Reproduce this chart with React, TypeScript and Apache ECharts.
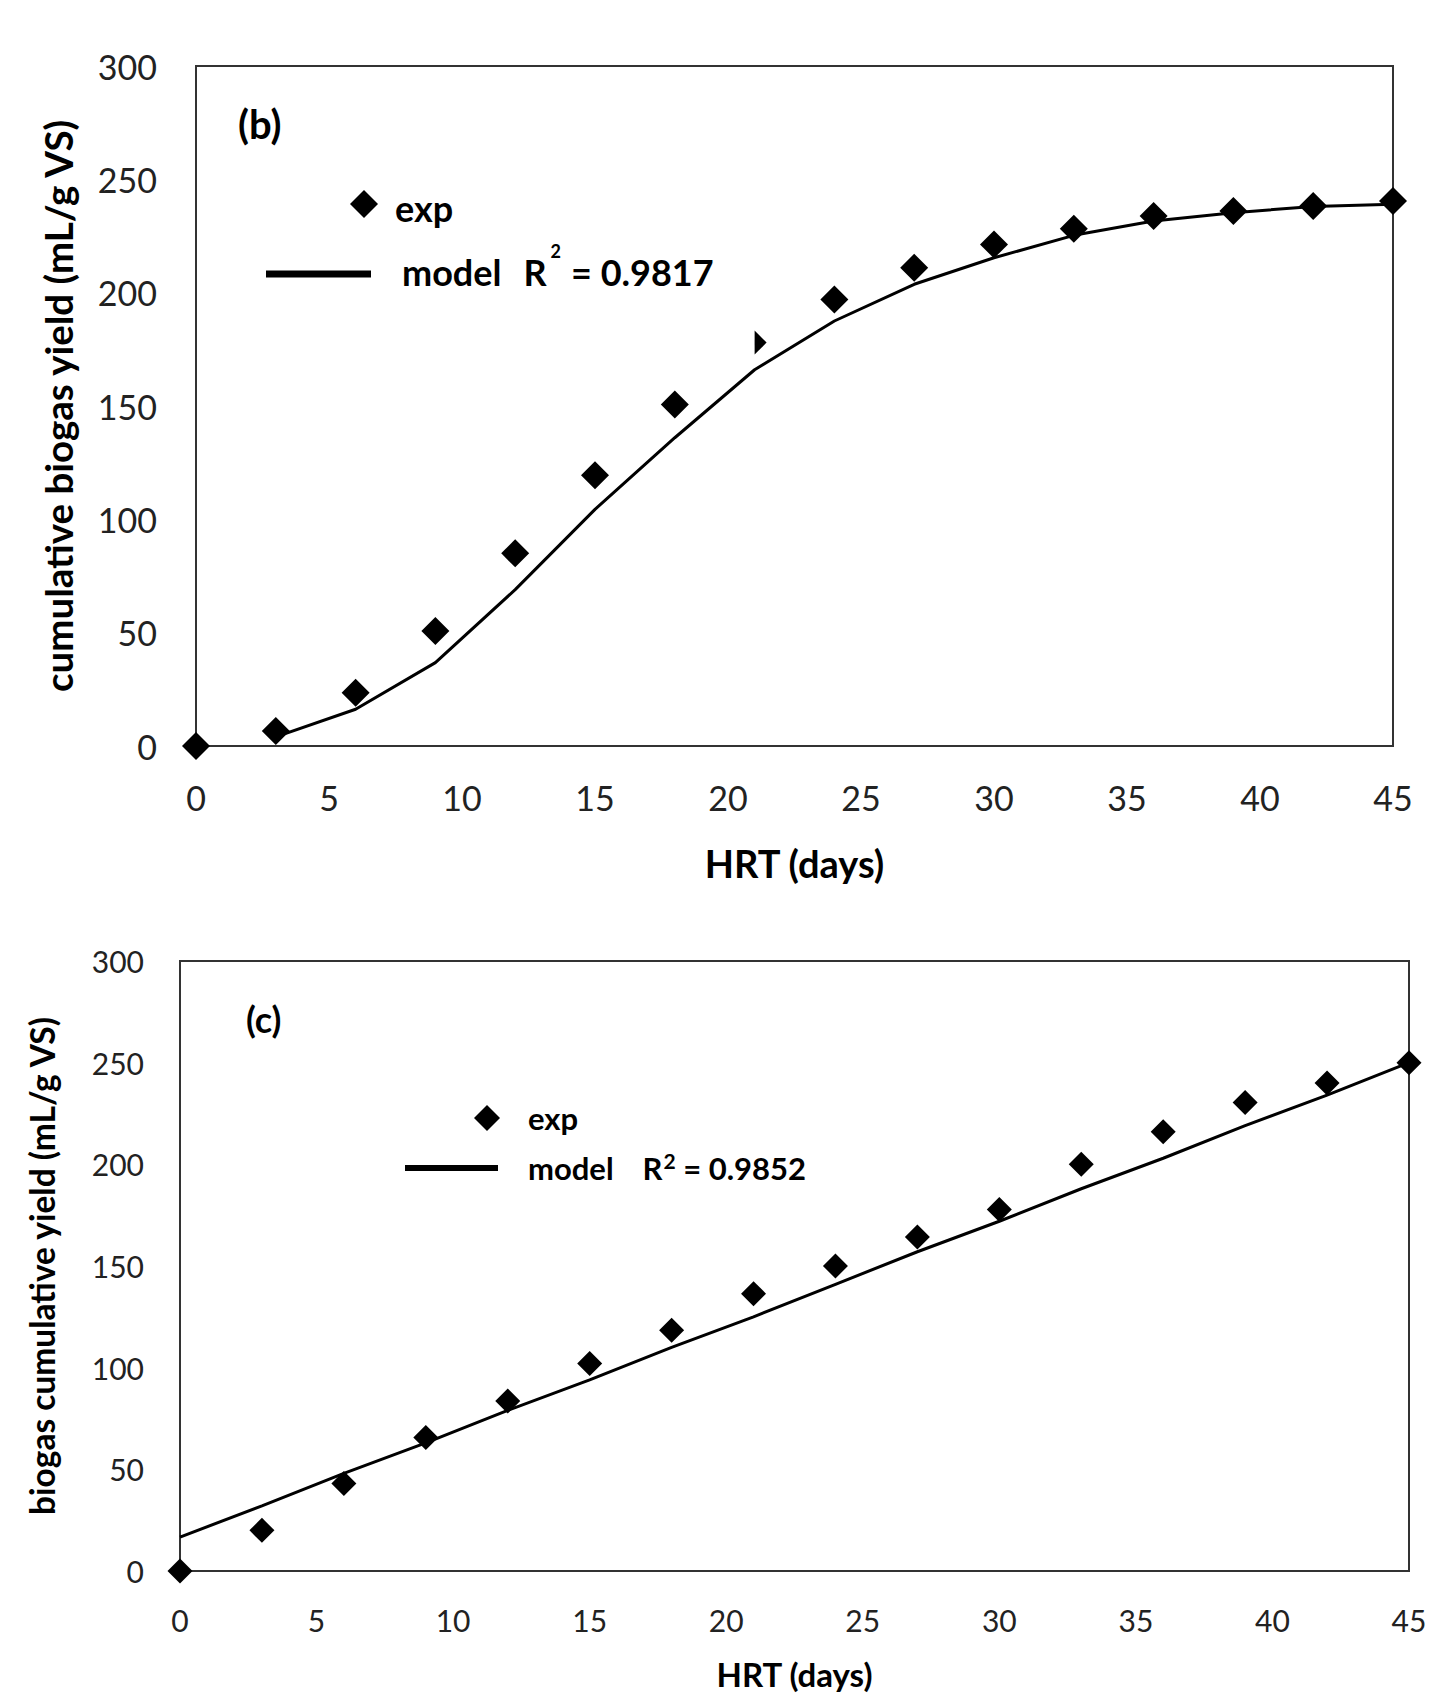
import React, { useEffect, useRef } from "react";
import * as echarts from "echarts";

// ---------- data ----------
const hrtDays = [0, 3, 6, 9, 12, 15, 18, 21, 24, 27, 30, 33, 36, 39, 42, 45];
const xTickLabels = [0, 5, 10, 15, 20, 25, 30, 35, 40, 45];
const yTickLabels = [0, 50, 100, 150, 200, 250, 300];

// panel (b)
const expB = [0, 6.6, 23.5, 50.7, 85, 119.4, 150.7, 178, 197, 211, 221.3, 228.2, 233.8, 236, 238.2, 240.4];
const modelDaysB = [3, 6, 9, 12, 15, 18, 21, 24, 27, 30, 33, 36, 39, 42, 45];
const modelB = [4, 16.2, 36.8, 69, 104.4, 136, 166, 187.5, 203.7, 215.4, 225.3, 231.6, 235.3, 238, 239];
const partialMarkerDayB = 21; // this marker is drawn as a half diamond in the original
const r2B = "0.9817";

// panel (c)
const expC = [0, 20, 43, 65.6, 83.6, 102, 118.4, 136.4, 150, 164.3, 177.8, 200, 216, 230.4, 240, 249.9];
const modelC = [16.7, 32, 48, 63, 79, 94, 110, 125, 141, 157, 172, 188, 203, 219, 234, 250];
const r2C = "0.9852";

// ---------- styles ----------
const FONT = "Lato, 'Open Sans', sans-serif";
const INK = "#000";
const BOX = "#333";

const xMin = xTickLabels[0];
const xMax = xTickLabels[xTickLabels.length - 1];
const xInt = xTickLabels[1] - xTickLabels[0];
const yMin = yTickLabels[0];
const yMax = yTickLabels[yTickLabels.length - 1];
const yInt = yTickLabels[1] - yTickLabels[0];

function xAxisFor(grid: number, labelSize: number, labelMargin: number, nameSize: number, nameGap: number) {
  return {
    gridIndex: grid,
    type: "value",
    min: xMin,
    max: xMax,
    interval: xInt,
    axisLine: { show: false },
    axisTick: { show: false },
    splitLine: { show: false },
    axisLabel: { fontSize: labelSize, margin: labelMargin, color: "#222", fontFamily: FONT },
    name: "HRT (days)",
    nameLocation: "middle",
    nameGap,
    nameMoveOverlap: false,
    nameTextStyle: { fontSize: nameSize, fontWeight: "bold", color: INK, fontFamily: FONT },
  };
}

function yAxisFor(grid: number, name: string, labelSize: number, labelMargin: number, nameSize: number, nameGap: number) {
  return {
    gridIndex: grid,
    type: "value",
    min: yMin,
    max: yMax,
    interval: yInt,
    axisLine: { show: false },
    axisTick: { show: false },
    splitLine: { show: false },
    axisLabel: { fontSize: labelSize, margin: labelMargin, color: "#222", fontFamily: FONT },
    name,
    nameLocation: "middle",
    nameRotate: 90,
    nameGap,
    nameMoveOverlap: false,
    nameTextStyle: { fontSize: nameSize, fontWeight: "bold", color: INK, fontFamily: FONT },
  };
}

function diamond(cx: number, cy: number, h: number) {
  return {
    type: "polygon",
    shape: { points: [[cx, cy - h], [cx + h, cy], [cx, cy + h], [cx - h, cy]] },
    style: { fill: INK },
  };
}

function label(x: number, y: number, text: string, size: number) {
  return {
    type: "text",
    x,
    y,
    style: {
      text,
      fill: INK,
      fontSize: size,
      fontWeight: "bold",
      fontFamily: FONT,
      align: "left",
      verticalAlign: "middle",
    },
  };
}

const option = {
  animation: false,
  backgroundColor: "#fff",
  grid: [
    { left: 196, top: 66, width: 1197, height: 680, show: true, borderColor: BOX, borderWidth: 2, backgroundColor: "transparent" },
    { left: 180, top: 961, width: 1229, height: 610, show: true, borderColor: BOX, borderWidth: 2, backgroundColor: "transparent" },
  ],
  xAxis: [xAxisFor(0, 34, 34, 38, 98), xAxisFor(1, 30, 34, 33, 86)],
  yAxis: [
    yAxisFor(0, "cumulative biogas yield (mL/g VS)", 34, 39, 38.5, 119),
    yAxisFor(1, "biogas cumulative yield (mL/g VS)", 30, 36, 33.5, 121),
  ],
  series: [
    {
      name: "exp",
      type: "scatter",
      xAxisIndex: 0,
      yAxisIndex: 0,
      symbol: "diamond",
      symbolSize: 28,
      clip: false,
      z: 3,
      itemStyle: { color: INK, opacity: 1 },
      data: hrtDays.map((d, i) =>
        d === partialMarkerDayB
          ? { value: [d, expB[i]], symbol: "path://M0 0L1 1L0 2Z", symbolSize: [12, 24], symbolOffset: [6, 0] }
          : [d, expB[i]]
      ),
    },
    {
      name: "model",
      type: "line",
      xAxisIndex: 0,
      yAxisIndex: 0,
      symbol: "none",
      showSymbol: false,
      clip: false,
      lineStyle: { color: INK, width: 3 },
      data: modelDaysB.map((d, i) => [d, modelB[i]]),
    },
    {
      name: "exp",
      type: "scatter",
      xAxisIndex: 1,
      yAxisIndex: 1,
      symbol: "diamond",
      symbolSize: 25,
      clip: false,
      z: 3,
      itemStyle: { color: INK, opacity: 1 },
      data: hrtDays.map((d, i) => [d, expC[i]]),
    },
    {
      name: "model",
      type: "line",
      xAxisIndex: 1,
      yAxisIndex: 1,
      symbol: "none",
      showSymbol: false,
      clip: false,
      lineStyle: { color: INK, width: 3 },
      data: hrtDays.map((d, i) => [d, modelC[i]]),
    },
  ],
  graphic: [
    // panel (b) annotations
    label(238, 124, "(b)", 40),
    diamond(364, 204, 14),
    label(395, 208, "exp", 36),
    { type: "line", shape: { x1: 266, y1: 274, x2: 371, y2: 274 }, style: { stroke: INK, lineWidth: 7 } },
    {
      type: "text",
      x: 402,
      y: 272,
      style: {
        text: "{m|model}{r|R}{s|2}{e|= " + r2B + "}",
        fill: INK,
        fontFamily: FONT,
        fontWeight: "bold",
        fontSize: 36,
        align: "left",
        verticalAlign: "middle",
        rich: {
          m: { fontSize: 36, fontWeight: "bold", fontFamily: FONT, fill: INK, lineHeight: 60 },
          r: { fontSize: 36, fontWeight: "bold", fontFamily: FONT, fill: INK, lineHeight: 60, padding: [0, 0, 0, 22] },
          s: { fontSize: 18, fontWeight: "bold", fontFamily: FONT, fill: INK, lineHeight: 18, verticalAlign: "top", padding: [0, 10, 0, 4] },
          e: { fontSize: 36, fontWeight: "bold", fontFamily: FONT, fill: INK, lineHeight: 60 },
        },
      },
    },
    // panel (c) annotations
    label(246, 1019, "(c)", 36),
    diamond(487, 1118, 13),
    label(528, 1118, "exp", 31),
    { type: "line", shape: { x1: 405, y1: 1168, x2: 498, y2: 1168 }, style: { stroke: INK, lineWidth: 6 } },
    {
      type: "text",
      x: 528,
      y: 1168,
      style: {
        text: "{m|model}{r|R}{s|2}{e| = " + r2C + "}",
        fill: INK,
        fontFamily: FONT,
        fontWeight: "bold",
        fontSize: 31,
        align: "left",
        verticalAlign: "middle",
        rich: {
          m: { fontSize: 31, fontWeight: "bold", fontFamily: FONT, fill: INK, lineHeight: 36 },
          r: { fontSize: 31, fontWeight: "bold", fontFamily: FONT, fill: INK, lineHeight: 36, padding: [0, 0, 0, 29] },
          s: { fontSize: 21, fontWeight: "bold", fontFamily: FONT, fill: INK, lineHeight: 22, verticalAlign: "top", padding: [0, 0, 0, 1] },
          e: { fontSize: 31, fontWeight: "bold", fontFamily: FONT, fill: INK, lineHeight: 36 },
        },
      },
    },
  ],
};

export default function App() {
  const ref = useRef<HTMLDivElement>(null);
  useEffect(() => {
    if (!ref.current) return;
    const chart = echarts.init(ref.current, undefined, { renderer: "svg" });
    chart.setOption(option as any);
    return () => chart.dispose();
  }, []);
  return (
    <div
      ref={ref}
      style={{ position: "absolute", left: 0, top: 0, width: 1449, height: 1699, background: "#fff" }}
    />
  );
}
